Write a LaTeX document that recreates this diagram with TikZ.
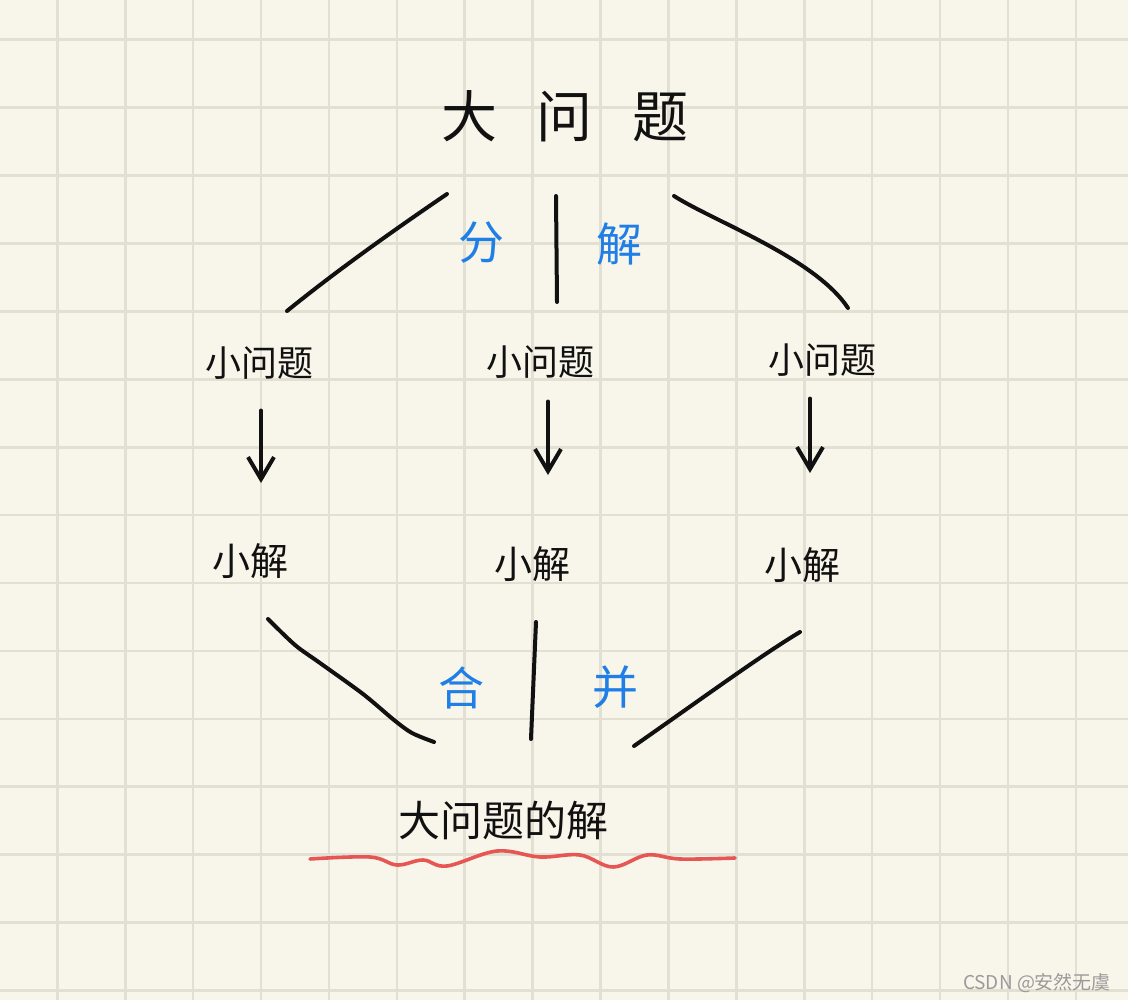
\documentclass[tikz,border=0pt]{standalone}
\usepackage{fontspec}
\newfontfamily\cjk{Noto Sans CJK SC}
\usetikzlibrary{arrows.meta}
\definecolor{paper}{HTML}{F8F6EA}
\definecolor{gridc}{HTML}{E2DFD3}
\definecolor{ink}{HTML}{111111}
\definecolor{bluepen}{HTML}{1F7FE6}
\definecolor{redpen}{HTML}{E65754}
\definecolor{mark}{HTML}{9A9A9A}
\begin{document}
\begin{tikzpicture}[x=1pt,y=-1pt,
  stroke/.style={line width=4pt,draw=ink,line cap=round,line join=round},
  gridline/.style={line width=2.6pt,draw=gridc},
  pointer/.style={stroke,-{Straight Barb[length=22pt,width=26pt]}},
  word/.style={inner sep=0pt,text=ink,font=\cjk\fontsize{#1}{#1}\selectfont},
  bword/.style={inner sep=0pt,text=bluepen,font=\cjk\fontsize{#1}{#1}\selectfont}]
% paper and grid
\fill[paper] (0,0) rectangle (1128,1000);
\useasboundingbox (0,0) rectangle (1128,1000);
\foreach \k in {0,...,15} \draw[gridline] ({57.3+67.9*\k},0) -- ({57.3+67.9*\k},1000);
\foreach \k in {0,...,14} \draw[gridline] (0,{39.8+67.9*\k}) -- (1128,{39.8+67.9*\k});

% top problem
\node[word=56] (big) at (565,116) {大\hspace{40pt}问\hspace{40pt}题};

% split
\coordinate (s1a) at (447,194);
\coordinate (s1b) at (287,311);
\coordinate (s2a) at (556,196);
\coordinate (s2b) at (557,302);
\coordinate (s3a) at (674,196);
\coordinate (s3b) at (848,308);
\draw[stroke] (s1a) .. controls (400,226) and (340,268) .. (s1b);
\draw[stroke] (s2a) -- (s2b);
\draw[stroke] (s3a) .. controls (715,222) and (815,258) .. (s3b);
\node[bword=46] (fen) at (481,243) {分};
\node[bword=46] (jie) at (619,244) {解};

% sub problems
\node[word=36] (p1) at (259,363) {小问题};
\node[word=36] (p2) at (540,362) {小问题};
\node[word=36] (p3) at (822,360) {小问题};

% solve each
\node[word=38] (r1) at (250,561) {小解};
\node[word=38] (r2) at (532,564) {小解};
\node[word=38] (r3) at (802,565) {小解};
\draw[pointer] (p1.south -| 261,0) ++(0,31) -- (261,483);
\draw[pointer] (p2.south -| 548,0) ++(0,23) -- (548,475);
\draw[pointer] (p3.south -| 810,0) ++(0,22) -- (810,473);

% merge
\coordinate (m1a) at (268,619);
\coordinate (m1b) at (434,742);
\coordinate (m2a) at (536,622);
\coordinate (m2b) at (531,739);
\coordinate (m3a) at (800,632);
\coordinate (m3b) at (634,746);
\draw[stroke] plot[smooth,tension=0.5] coordinates {(m1a) (295,645) (320,663) (363,694) (394,720) (412,733) (m1b)};
\draw[stroke] (m2a) -- (m2b);
\draw[stroke] (m3a) .. controls (760,656) and (700,700) .. (m3b);
\node[bword=46] (he) at (461,688) {合};
\node[bword=46] (bing) at (615,687) {并};

% final answer
\node[word=42] (ans) at (503,821) {大问题的解};
\draw[line width=3.6pt,draw=redpen,line cap=round,line join=round]
  plot[smooth,tension=0.6] coordinates {(310,859) (370,857) (397,865) (423,860) (447,866) (497,851) (540,857) (580,855) (613,867) (647,855) (680,859) (735,858)};

% signature
\node[inner sep=0pt,text=mark,font=\cjk\fontsize{19}{19}\selectfont] (sig) at (1037,983) {CSDN @安然无虞};
\end{tikzpicture}
\end{document}
